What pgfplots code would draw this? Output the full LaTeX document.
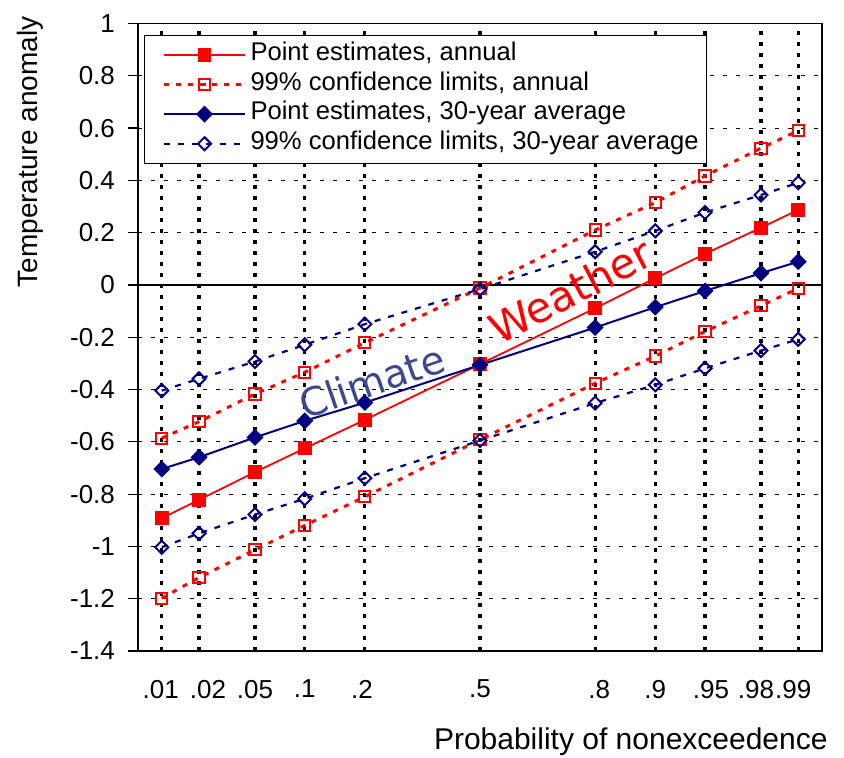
\documentclass[border=0pt]{standalone}
\usepackage{pgfplots}
\pgfplotsset{compat=1.18}
\usepackage{fontspec}
\setmainfont{Liberation Sans}
\newfontfamily\dejavu{DejaVu Sans}
\definecolor{navy}{RGB}{0,0,128}
\definecolor{climcol}{RGB}{60,72,140}
\begin{document}
\begin{tikzpicture}
\begin{axis}[name=ax, at={(0,0)}, anchor=south west,
 scale only axis, width=342pt, height=313.75pt,
 xmin=-2.5, xmax=2.5, ymin=-1.4, ymax=1,
 xtick={-2.3263,-2.0537,-1.6449,-1.2816,-0.8416,0,0.8416,1.2816,1.6449,2.0537,2.3263},
 xticklabels={{\hspace*{-1pt}.01},{\hspace*{9pt}.02},.05,.1,{.2\hspace*{3pt}},.5,{\hspace*{4pt}.8},.9,{\hspace*{6pt}.95},{.98\hspace*{5pt}},{.99\hspace*{5pt}}},
 ytick={-1.4,-1.2,-1,-0.8,-0.6,-0.4,-0.2,0,0.2,0.4,0.6,0.8,1},
 yticklabels={-1.4,-1.2,-1,-0.8,-0.6,-0.4,-0.2,0,0.2,0.4,0.6,0.8,1},
 ytick pos=left, xtick pos=bottom,
 tick align=outside, major tick length=5pt,
 xtick style={draw=none},
 ytick style={black, line width=0.6pt},
 grid=major,
 x grid style={black, line width=1.6pt, dash pattern=on 2pt off 3.5pt},
 y grid style={black, line width=0.5pt, dash pattern=on 2pt off 4.5pt},
 axis line style={black, line width=0.6pt},
 /pgf/number format/assume math mode=true,
 ticklabel style={font=\fontsize{13}{15}\selectfont},
 yticklabel style={xshift=-3pt},
 xticklabel style={yshift=-6pt},
 legend cell align=left,
 legend style={at={(axis description cs:0.00877,0.9817)}, anchor=north west,
   draw=black, line width=0.5pt, fill=white, inner xsep=4pt, inner ysep=2.3pt,
   font=\fontsize{12.8}{14}\selectfont,
   nodes={inner sep=0pt, text height=10.3pt, text depth=4.5pt},
   column sep=2pt, cells={anchor=west}},
 legend image code/.code={\path (-5pt,0pt); \draw[mark repeat=2,mark phase=2,#1] plot coordinates {(0pt,0pt) (20.25pt,0pt) (40.5pt,0pt)};},
]
\draw[black, line width=0.6pt] (axis cs:-2.5,0) -- (axis cs:2.5,0);

\addplot[red, line width=0.9pt, mark=square*, mark size=3pt, mark options={solid, fill=red}] coordinates {
(-2.3263,-0.892) (-2.0537,-0.822) (-1.6449,-0.716) (-1.2816,-0.625) (-0.8416,-0.516) (0,-0.303) (0.8416,-0.089) (1.2816,0.026) (1.6449,0.119) (2.0537,0.219) (2.3263,0.287)};
\addlegendentry{Point estimates, annual}

\addplot[red, line width=1.5pt, dash pattern=on 2.5pt off 3.5pt, mark=square, mark size=2.8pt, mark options={solid, line width=1pt}] coordinates {
(-2.3263,-0.586) (-2.0537,-0.523) (-1.6449,-0.417) (-1.2816,-0.334) (-0.8416,-0.221) (0,-0.012) (0.8416,0.210) (1.2816,0.315) (1.6449,0.417) (2.0537,0.523) (2.3263,0.590)};
\addlegendentry{99\% confidence limits, annual}

\addplot[red, line width=1.5pt, dash pattern=on 2.5pt off 3.5pt, mark=square, mark size=2.8pt, mark options={solid, line width=1pt}, forget plot] coordinates {
(-2.3263,-1.198) (-2.0537,-1.119) (-1.6449,-1.013) (-1.2816,-0.920) (-0.8416,-0.810) (0,-0.592) (0.8416,-0.376) (1.2816,-0.272) (1.6449,-0.178) (2.0537,-0.080) (2.3263,-0.013)};

\addplot[navy, line width=1pt, mark=square*, mark size=2.5pt, mark options={solid, rotate=45, fill=navy}] coordinates {
(-2.3263,-0.704) (-2.0537,-0.659) (-1.6449,-0.583) (-1.2816,-0.520) (-0.8416,-0.450) (0,-0.306) (0.8416,-0.163) (1.2816,-0.085) (1.6449,-0.023) (2.0537,0.045) (2.3263,0.089)};
\addlegendentry{Point estimates, 30-year average}

\addplot[navy, line width=1.1pt, dash pattern=on 3pt off 4pt, mark=square, mark size=2.3pt, mark options={solid, rotate=45, line width=1pt}] coordinates {
(-2.3263,-0.404) (-2.0537,-0.359) (-1.6449,-0.293) (-1.2816,-0.229) (-0.8416,-0.150) (0,-0.016) (0.8416,0.127) (1.2816,0.207) (1.6449,0.277) (2.0537,0.344) (2.3263,0.391)};
\addlegendentry{99\% confidence limits, 30-year average}

\addplot[navy, line width=1.1pt, dash pattern=on 3pt off 4pt, mark=square, mark size=2.3pt, mark options={solid, rotate=45, line width=1pt}, forget plot] coordinates {
(-2.3263,-1.003) (-2.0537,-0.950) (-1.6449,-0.878) (-1.2816,-0.818) (-0.8416,-0.739) (0,-0.595) (0.8416,-0.452) (1.2816,-0.382) (1.6449,-0.319) (2.0537,-0.251) (2.3263,-0.208)};

\node[rotate=19, inner sep=0pt, text=climcol, font=\dejavu\fontsize{19.5}{21}\selectfont] at (axis cs:-0.789,-0.367) {Climate};
\node[rotate=27.5, inner sep=0pt, text=red, font=\dejavu\fontsize{21}{23}\selectfont] at (axis cs:0.660,-0.023) {Weather};
\end{axis}
\node[anchor=east, inner sep=0pt, font=\fontsize{15}{17}\selectfont] at ([shift={(345pt,-45.5pt)}]ax.south west) {Probability of nonexceedence};
\node[rotate=90, inner sep=0pt, font=\fontsize{14}{16}\selectfont] at ([shift={(-54pt,249.5pt)}]ax.south west) {Temperature anomaly};
\path ([shift={(-69pt,-53.5pt)}]ax.south west) rectangle ++(422pt,379pt);
\end{tikzpicture}
\end{document}
